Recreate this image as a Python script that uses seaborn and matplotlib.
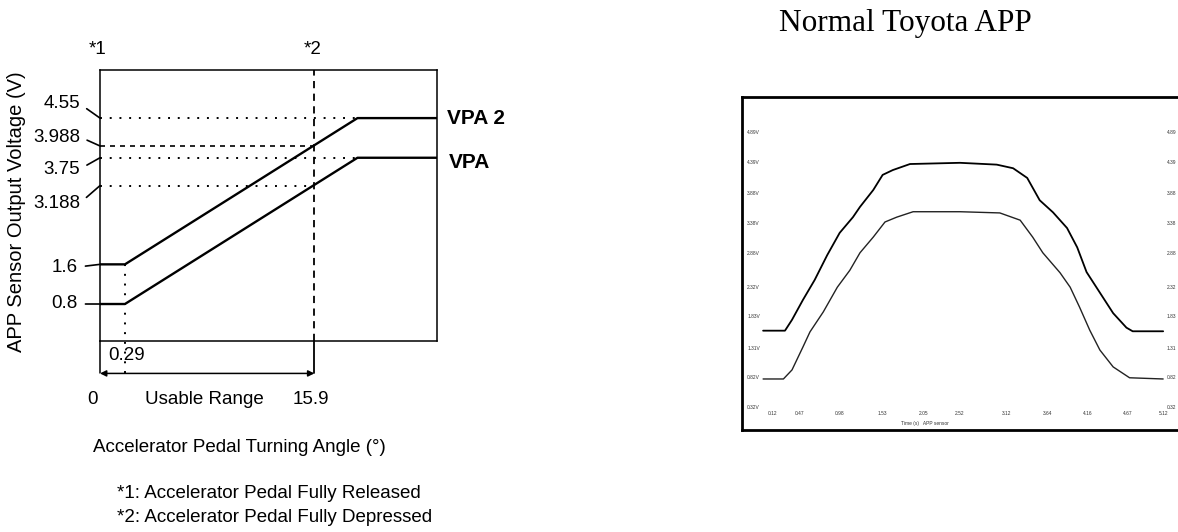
import numpy as np
import seaborn as sns
import matplotlib.pyplot as plt

# ---- left panel: APP sensor characteristic (schematic) ----
angle_pts = [0, 0.29, 19.1, 25]          # accelerator pedal angle (deg)
vpa2_pts = [1.6, 1.6, 4.55, 4.55]        # VPA2 output (V)
vpa_pts = [0.8, 0.8, 3.75, 3.75]         # VPA output (V)
released_angle = 0.29
depressed_angle = 15.9
sat_angle = 19.1
volt_labels = ["4.55", "3.988", "3.75", "3.188", "1.6", "0.8"]
volt_values = [4.55, 3.988, 3.75, 3.188, 1.6, 0.8]

# ---- right panel: scope capture "Normal Toyota APP" ----
t_vpa2 = [0.00, 0.28, 0.37, 0.51, 0.66, 0.82, 0.98, 1.15, 1.24, 1.41, 1.53, 1.66, 1.88,
          2.52, 2.99, 3.20, 3.38, 3.54, 3.71, 3.89, 4.02, 4.14, 4.31, 4.48, 4.65, 4.73, 5.12]
v_vpa2 = [1.60, 1.60, 1.78, 2.11, 2.44, 2.85, 3.22, 3.48, 3.65, 3.93, 4.18, 4.26, 4.36,
          4.38, 4.35, 4.29, 4.13, 3.76, 3.56, 3.30, 2.98, 2.57, 2.23, 1.89, 1.65, 1.59, 1.59]
t_vpa = [0.00, 0.26, 0.37, 0.51, 0.60, 0.77, 0.95, 1.11, 1.24, 1.41, 1.56, 1.71, 1.92,
         2.52, 3.03, 3.29, 3.45, 3.58, 3.80, 3.93, 4.05, 4.18, 4.31, 4.48, 4.69, 5.12]
v_vpa = [0.80, 0.80, 0.95, 1.33, 1.58, 1.91, 2.32, 2.60, 2.89, 3.15, 3.40, 3.48, 3.57,
         3.57, 3.55, 3.43, 3.15, 2.89, 2.56, 2.32, 1.99, 1.61, 1.28, 1.00, 0.82, 0.80]
scope_vticks = [0.32, 0.82, 1.31, 1.83, 2.32, 2.88, 3.38, 3.88, 4.39, 4.89]
scope_tticks = [0.12, 0.47, 0.98, 1.53, 2.05, 2.52, 3.12, 3.64, 4.16, 4.67, 5.12]

W, H = 1178, 532


def fpos(x, y):
    # pixel position -> figure fraction
    return x / W, 1 - y / H


sns.set_theme(style="white", rc={"text.color": "black", "axes.edgecolor": "black"})
plt.rcParams["font.family"] = ["Liberation Sans", "DejaVu Sans"]

fig = plt.figure(figsize=(W / 100, H / 100), dpi=100)

# ================= left =================
ax = fig.add_axes([100 / W, (H - 341) / H, 337 / W, 271 / H])
# schematic angle axis: the released angle is drawn wider than to scale
real = [-100, 0, released_angle, depressed_angle, 100]
drawn = [-100, 0, 1.85, depressed_angle, 100]
ax.set_xscale("function", functions=(lambda x: np.interp(x, real, drawn),
                                     lambda x: np.interp(x, drawn, real)))
ax.set_xlim(0, 25)
ax.set_ylim(0.054, 5.52)
ax.set_xticks([])
ax.set_yticks([])
for s in ax.spines.values():
    s.set_linewidth(1.1)

sns.lineplot(x=angle_pts, y=vpa2_pts, ax=ax, color="black", lw=1.7)
sns.lineplot(x=angle_pts, y=vpa_pts, ax=ax, color="black", lw=1.7)

# reference levels
dot = dict(color="black", lw=1.4, dashes=(1, 4))
ax.plot([0, sat_angle], [vpa2_pts[-1]] * 2, **dot)
ax.plot([0, sat_angle], [vpa_pts[-1]] * 2, **dot)
ax.plot([0, depressed_angle], [volt_values[1]] * 2, color="black", lw=1.2, dashes=(3, 3))
ax.plot([0, depressed_angle], [volt_values[3]] * 2, **dot)

arrow_y = -0.6
ax.plot([depressed_angle] * 2, [0.054, 5.52], color="black", lw=1.3, dashes=(4, 3))
ax.plot([depressed_angle] * 2, [arrow_y, 0.054], color="black", lw=1.3, clip_on=False)
ax.plot([0, 0], [arrow_y, 0.054], color="black", lw=1.1, clip_on=False)
ax.plot([released_angle] * 2, [arrow_y, vpa2_pts[0]], color="black", lw=1.4,
        dashes=(1, 4), clip_on=False)
ax.annotate("", xy=(0, arrow_y), xytext=(depressed_angle, arrow_y),
            arrowprops=dict(arrowstyle="<|-|>", color="black", lw=1.1,
                            mutation_scale=9, shrinkA=0, shrinkB=0),
            annotation_clip=False)

# voltage labels with leader lines
label_px = [(80, 104), (80, 137), (80, 169), (80, 203), (78, 267), (78, 304)]
for txt, v, (px, py) in zip(volt_labels, volt_values, label_px):
    ax.annotate(txt, xy=(0, v), xytext=fpos(px, py), textcoords="figure fraction",
                ha="right", va="center", fontsize=13.5,
                arrowprops=dict(arrowstyle="-", color="black", lw=1.2,
                                relpos=(1, 0.5), shrinkA=3, shrinkB=0),
                annotation_clip=False)

fig.text(*fpos(98, 50), "*1", fontsize=13.5, ha="center", va="center")
fig.text(*fpos(313, 50), "*2", fontsize=13.5, ha="center", va="center")
fig.text(*fpos(447, 118), "VPA 2", fontsize=15, weight="bold", ha="left", va="center")
fig.text(*fpos(449, 162), "VPA", fontsize=15, weight="bold", ha="left", va="center")
fig.text(*fpos(108, 356), "0.29", fontsize=13.5, ha="left", va="center")
fig.text(*fpos(93, 399), "0", fontsize=13.5, ha="center", va="center")
fig.text(*fpos(204, 399), "Usable Range", fontsize=13.5, ha="center", va="center")
fig.text(*fpos(311, 399), "15.9", fontsize=13.5, ha="center", va="center")
fig.text(*fpos(239, 447), "Accelerator Pedal Turning Angle (°)", fontsize=13.5,
         ha="center", va="center")
fig.text(*fpos(117, 494), "*1: Accelerator Pedal Fully Released", fontsize=13.5,
         ha="left", va="center")
fig.text(*fpos(117, 518), "*2: Accelerator Pedal Fully Depressed", fontsize=13.5,
         ha="left", va="center")
fig.text(*fpos(17, 212), "APP Sensor Output Voltage (V)", fontsize=14.5,
         rotation=90, ha="center", va="center")

# ================= right =================
ax2 = fig.add_axes([742 / W, (H - 430) / H, (W - 742) / W, 333 / H])
ax2.set_xlim(-0.27, 5.31)
ax2.set_ylim(-0.045, 5.47)
ax2.set_xticks([])
ax2.set_yticks([])
for s in ax2.spines.values():
    s.set_linewidth(2.0)
ax2.spines["right"].set_visible(False)

sns.lineplot(x=t_vpa2, y=v_vpa2, ax=ax2, color="black", lw=1.3)
sns.lineplot(x=t_vpa, y=v_vpa, ax=ax2, color="#222222", lw=1.0)

# scope graticule labels (tiny, as in the capture)
for v in scope_vticks:
    ax2.text(0.012, v, f"{v:.2f}V", fontsize=3.5, color="#333333",
             transform=ax2.get_yaxis_transform(), ha="left", va="center")
    ax2.text(0.975, v, f"{v:.2f}", fontsize=3.5, color="#333333",
             transform=ax2.get_yaxis_transform(), ha="left", va="center")
for t in scope_tticks:
    ax2.text(t, 0.05, f"{t:.2f}", fontsize=3.5, color="#333333",
             transform=ax2.get_xaxis_transform(), ha="center", va="center")
ax2.text(0.42, 0.02, "Time (s)   APP sensor", fontsize=3.5, color="#333333",
         transform=ax2.transAxes, ha="center", va="center")

fig.text(*fpos(905, 24), "Normal Toyota APP", fontsize=22.5,
         family=["Liberation Serif", "DejaVu Serif"], ha="center", va="center")

fig.savefig("out.png", dpi=100, facecolor="white")
